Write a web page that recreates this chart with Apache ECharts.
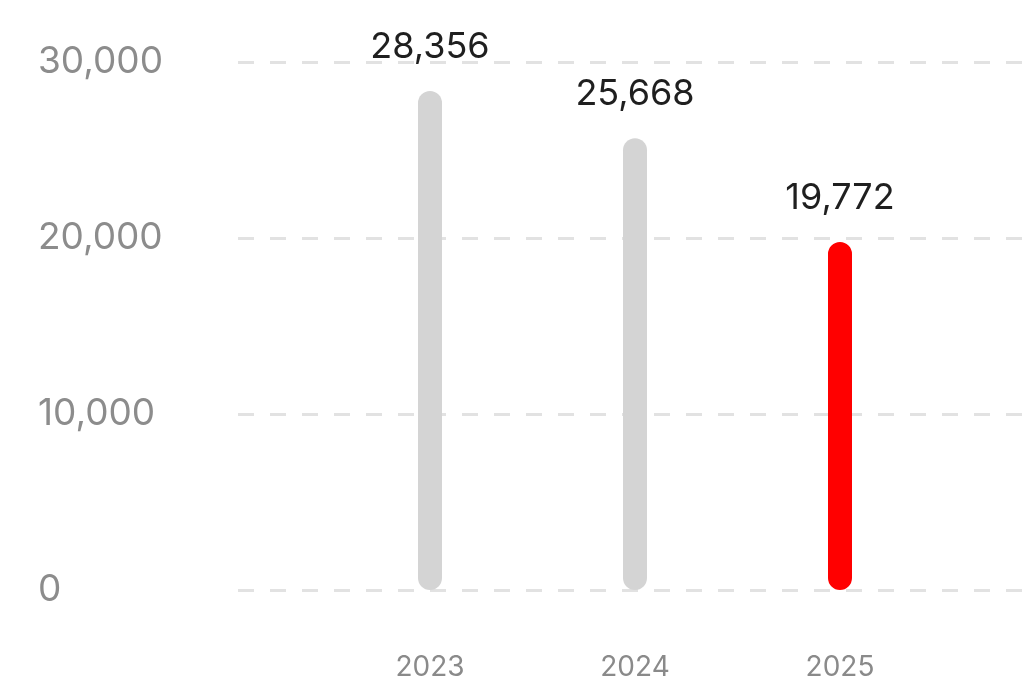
<!DOCTYPE html>
<html>
<head>
<meta charset="utf-8">
<script src="https://cdn.jsdelivr.net/npm/echarts@6/dist/echarts.min.js"></script>
<style>
  html, body { margin: 0; padding: 0; background: #ffffff; }
  #chart { width: 1026px; height: 683px; }
</style>
</head>
<body>
<div id="chart"></div>
<script>
// Yearly totals, with the latest year highlighted
const years = ['2023', '2024', '2025'];
const totals = [28356, 25668, 19772];
const barColors = ['#d4d4d4', '#d4d4d4', '#ff0000'];
const yTicks = [0, 10000, 20000, 30000];

const FONT = 'Inter, "Noto Sans", sans-serif';
const yMin = yTicks[0];
const yMax = yTicks[yTicks.length - 1];
const yStep = yTicks[1] - yTicks[0];

const fmt = v => v.toLocaleString('en-US');

const chart = echarts.init(document.getElementById('chart'), null, { renderer: 'canvas' });

chart.setOption({
  backgroundColor: '#ffffff',
  animation: false,
  grid: [
    // wide grid carrying the dashed value guides
    { left: 238, right: 0, top: 62, bottom: 93, containLabel: false },
    // narrower grid holding the year columns
    { left: 327.5, right: 83.5, top: 62, bottom: 93, containLabel: false }
  ],
  xAxis: [
    { gridIndex: 0, type: 'value', min: 0, max: 1, show: false },
    {
      gridIndex: 1,
      type: 'category',
      data: years,
      axisLine: { show: false },
      axisTick: { show: false },
      axisLabel: {
        color: '#8a8a8a',
        fontFamily: FONT,
        fontSize: 28,
        margin: 64
      }
    }
  ],
  yAxis: [
    {
      gridIndex: 0,
      type: 'value',
      min: yMin,
      max: yMax,
      interval: yStep,
      axisLine: { show: false },
      axisTick: { show: false },
      splitLine: {
        show: true,
        lineStyle: { color: '#e2e2e2', width: 3, type: [16, 16] }
      },
      axisLabel: {
        color: '#8c8c8c',
        fontFamily: FONT,
        fontSize: 37,
        align: 'left',
        margin: 200,
        formatter: v => fmt(v)
      }
    },
    {
      gridIndex: 1,
      type: 'value',
      min: yMin,
      max: yMax,
      interval: yStep,
      show: false
    }
  ],
  series: [
    {
      type: 'bar',
      xAxisIndex: 1,
      yAxisIndex: 1,
      barWidth: 24,
      data: totals.map((v, i) => ({
        value: v,
        itemStyle: { color: barColors[i], borderRadius: 12 }
      })),
      label: {
        show: true,
        position: 'top',
        distance: 26,
        color: '#1f1f1f',
        fontFamily: FONT,
        fontSize: 36,
        formatter: p => fmt(p.value)
      }
    }
  ]
});
</script>
</body>
</html>
